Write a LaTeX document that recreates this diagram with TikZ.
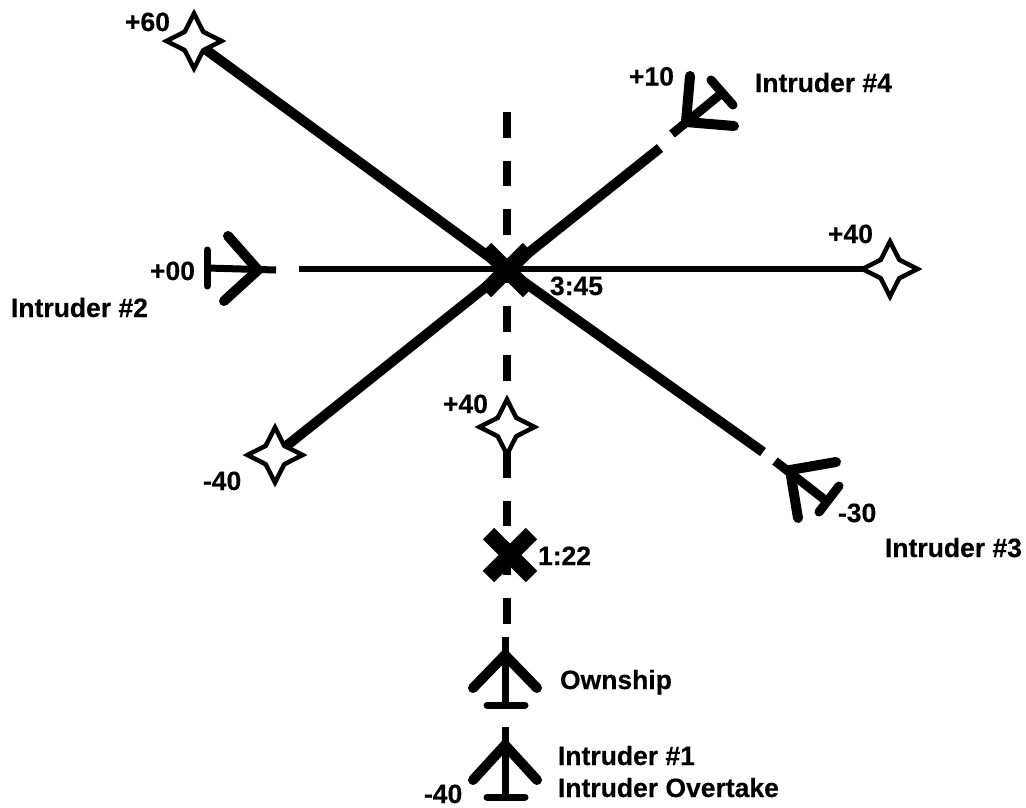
\documentclass[tikz,border=0pt]{standalone}
\usepackage{fontspec}
\setmainfont[BoldFeatures={FakeBold=0.4}]{Liberation Sans}
\usetikzlibrary{shapes.geometric,shapes.misc,backgrounds}
\tikzset{
  lbl/.style={anchor=base west,inner sep=0pt,outer sep=0pt,font=\fontsize{26.5}{30}\selectfont\bfseries,text=black},
  fourstar/.style={shape=star,star points=4,star point ratio=2.1,draw=black,fill=white,line width=4.5pt,inner sep=0pt,outer sep=0pt,minimum size=55pt},
  crossmark/.style={shape=rectangle,cross out,draw=black,line width=16pt,inner sep=0pt,outer sep=0pt,minimum size=43pt},
  track/.style={draw=black,line width=10pt},
  thintrack/.style={draw=black,line width=6.5pt},
  dashtrack/.style={draw=black,line width=7.5pt,dash pattern=on 25.5pt off 23.1pt},
  wings/.style={draw=black,line width=10pt,line cap=round,line join=miter},
  fuselage/.style={draw=black,line width=7pt},
  tailbar/.style={draw=black,line width=7pt,line cap=round},
}
\begin{document}
\begin{tikzpicture}[x=1pt,y=-1pt]
\useasboundingbox (0,0) rectangle (1026,807);
% crossing marks and waypoints
\node[crossmark] (cpa) at (507,270) {};
\node[crossmark] (ownx) at (510,555) {};
\node[fourstar] (s60) at (194,41) {};
\node[fourstar] (s40r) at (890,269) {};
\node[fourstar] (s40l) at (275,455) {};
\node[fourstar] (s40c) at (507,427) {};
% free track ends
\coordinate (vtop) at (507,112);
\coordinate (vend) at (507,624);
\coordinate (e3) at (763,452);
\coordinate (e4) at (660,148);
\coordinate (e2) at (299,269);
\begin{scope}[on background layer]
  \draw[dashtrack] (vtop) -- (vend);
  \draw[track] (s60.center) -- (cpa.center) -- (e3);
  \draw[track] (s40l.center) -- (cpa.center) -- (e4);
  \draw[thintrack] (e2) -- (s40r.center);
\end{scope}
% Ownship
\coordinate (on) at (505,637); \coordinate (oj) at (505,655);
\coordinate (ow1) at (473,688); \coordinate (ow2) at (537,688);
\coordinate (ot) at (505,705);
\coordinate (ot1) at (487,705); \coordinate (ot2) at (525,705);
\draw[fuselage] (on) -- (ot);
\draw[wings] (ow1) -- (oj) -- (ow2);
\draw[tailbar] (ot1) -- (ot2);
% Intruder 1
\coordinate (an) at (505,727); \coordinate (aj) at (505,745);
\coordinate (aw1) at (473,780); \coordinate (aw2) at (537,780);
\coordinate (at) at (505,797);
\coordinate (at1) at (487,797); \coordinate (at2) at (525,797);
\draw[fuselage] (an) -- (at);
\draw[wings] (aw1) -- (aj) -- (aw2);
\draw[tailbar] (at1) -- (at2);
% Intruder 2
\coordinate (bn) at (276,270); \coordinate (bj) at (258,270);
\coordinate (bw1) at (228,236); \coordinate (bw2) at (224,301);
\coordinate (bt) at (207,268);
\coordinate (bt1) at (207,250); \coordinate (bt2) at (207,286);
\draw[fuselage] (bn) -- (bt);
\draw[wings] (bw1) -- (bj) -- (bw2);
\draw[tailbar] (bt1) -- (bt2);
% Intruder 3
\coordinate (cn) at (775,461); \coordinate (cj) at (790,470);
\coordinate (cw1) at (836,462); \coordinate (cw2) at (798,518);
\coordinate (ct) at (825,500);
\coordinate (ct1) at (839,486); \coordinate (ct2) at (819,512);
\draw[fuselage,line width=9pt] (cn) -- (ct);
\draw[wings] (cw1) -- (cj) -- (cw2);
\draw[tailbar,line width=9pt] (ct1) -- (ct2);
% Intruder 4
\coordinate (dn) at (672,134); \coordinate (dj) at (686,122);
\coordinate (dw1) at (690,76); \coordinate (dw2) at (734,126);
\coordinate (dt) at (722,93);
\coordinate (dt1) at (711,80); \coordinate (dt2) at (733,105);
\draw[fuselage,line width=9pt] (dn) -- (dt);
\draw[wings] (dw1) -- (dj) -- (dw2);
\draw[tailbar,line width=9pt] (dt1) -- (dt2);
% Labels
\node[lbl] (t60) at (125,31) {+60};
\node[lbl] (t10) at (629,85.5) {+10};
\node[lbl] (ti4) at (755,92) {Intruder \#4};
\node[lbl] (t00) at (150,280) {+00};
\node[lbl] (ti2) at (11,317) {Intruder \#2};
\node[lbl] (t40r) at (828,243) {+40};
\node[lbl] (t345) at (550,295) {3:45};
\node[lbl] (t40c) at (443,413) {+40};
\node[lbl] (t40l) at (203,490) {-40};
\node[lbl] (t30) at (838,522) {-30};
\node[lbl] (ti3) at (885,557) {Intruder \#3};
\node[lbl] (t122) at (538,565) {1:22};
\node[lbl] (town) at (560,689) {Ownship};
\node[lbl] (ti1) at (558,765) {Intruder \#1};
\node[lbl] (tio) at (558,797) {Intruder Overtake};
\node[lbl] (t40b) at (424,803) {-40};
\end{tikzpicture}
\end{document}
